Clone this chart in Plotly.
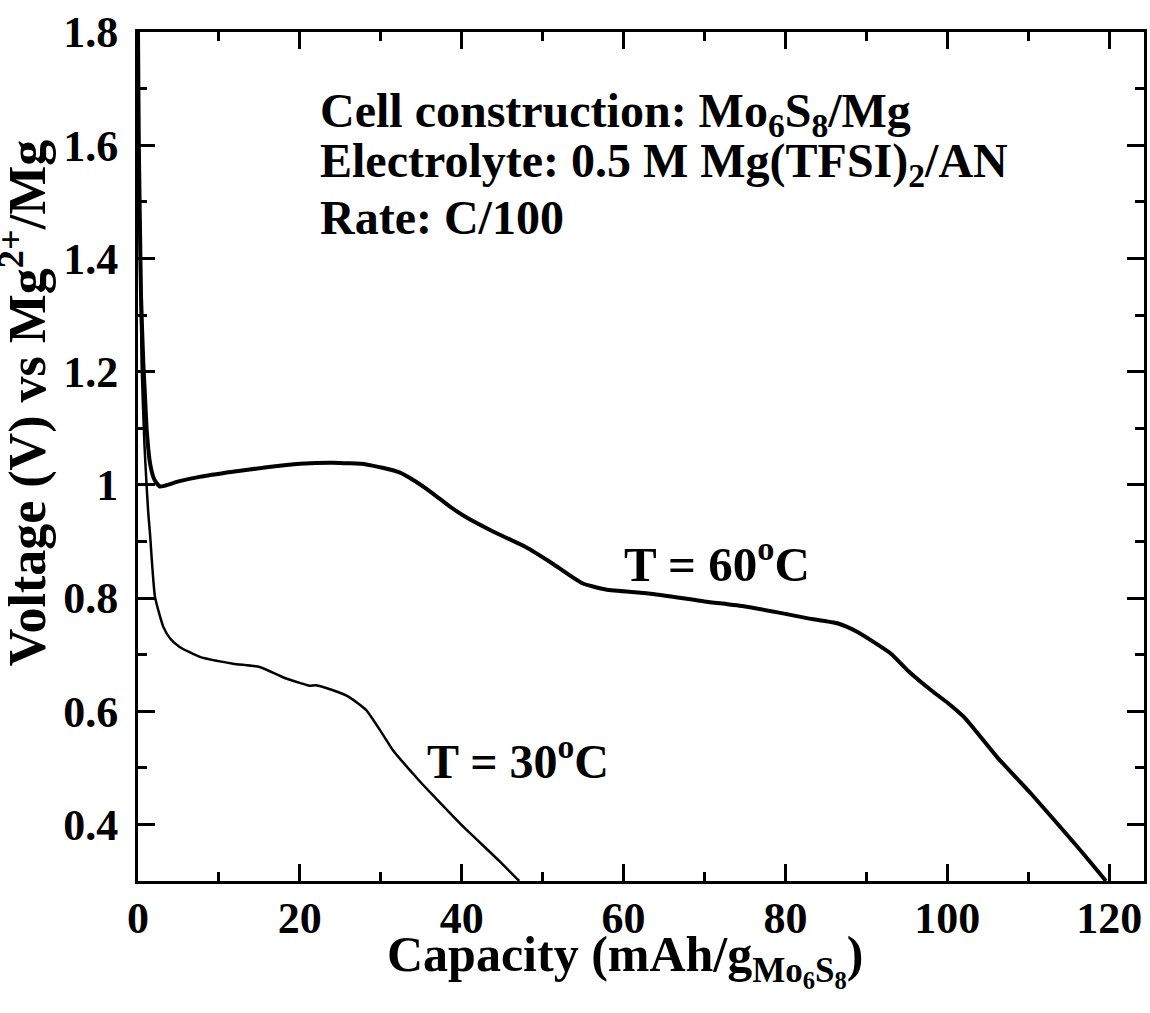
import plotly.graph_objects as go

# ---- data ----
cap_60 = [0, 0.1, 0.25, 0.38, 0.66, 0.87, 1.08, 1.5, 2.0, 2.7, 5.0, 7.6, 11.7, 15.9, 20.0, 24.1,
          28.2, 30.2, 32.3, 34.4, 36.4, 38.5, 40.5, 43.8, 47.9, 51.2, 54.9, 57.8, 63.1, 70.0,
          75.0, 80.0, 82.8, 86.5, 88.9, 93.0, 95.1, 98.0, 100.1, 102.1, 106.2, 110.3, 116.1, 119.6]
volt_60 = [1.80, 1.60, 1.45, 1.33, 1.214, 1.155, 1.096, 1.037, 1.010, 0.997, 1.006, 1.014, 1.023,
           1.031, 1.037, 1.039, 1.036, 1.030, 1.022, 1.005, 0.985, 0.962, 0.943, 0.918, 0.890,
           0.861, 0.826, 0.815, 0.808, 0.794, 0.785, 0.772, 0.764, 0.755, 0.740, 0.702, 0.672,
           0.637, 0.614, 0.589, 0.518, 0.455, 0.360, 0.300]

cap_30 = [0, 0.1, 0.2, 0.45, 0.8, 1.07, 1.27, 1.48, 2.1, 3.13, 4.0, 5.19, 7.65, 11.75, 15.04,
          17.9, 19.97, 21.2, 22.0, 24.1, 26.1, 28.2, 30.2, 31.5, 32.3, 34.7, 36.4, 39.9, 44.6, 47.1]
volt_30 = [1.80, 1.62, 1.47, 1.21, 1.07, 0.997, 0.95, 0.914, 0.802, 0.749, 0.728, 0.713, 0.696,
           0.684, 0.678, 0.660, 0.650, 0.645, 0.646, 0.637, 0.625, 0.602, 0.560, 0.531, 0.517,
           0.478, 0.452, 0.400, 0.336, 0.300]

x_ticks = [0, 20, 40, 60, 80, 100, 120]
x_ticklabels = ["0", "20", "40", "60", "80", "100", "120"]
y_ticks = [0.4, 0.6, 0.8, 1.0, 1.2, 1.4, 1.6, 1.8]
y_ticklabels = ["0.4", "0.6", "0.8", "1", "1.2", "1.4", "1.6", "1.8"]

info_lines = ["Cell construction: Mo<sub>6</sub>S<sub>8</sub>/Mg",
              "Electrolyte: 0.5 M Mg(TFSI)<sub>2</sub>/AN",
              "Rate: C/100"]
label_60 = "T = 60<sup>o</sup>C"
label_30 = "T = 30<sup>o</sup>C"
x_title = "Capacity (mAh/g<sub>Mo<sub>6</sub>S<sub>8</sub></sub>)"
y_title = "Voltage (V) vs Mg<sup>2+</sup>/Mg"

FONT = "Liberation Serif, Times New Roman, serif"

fig = go.Figure()
fig.add_trace(go.Scatter(x=cap_60, y=volt_60, mode="lines",
                         line=dict(color="black", width=4, shape="spline", smoothing=0.5),
                         showlegend=False))
fig.add_trace(go.Scatter(x=cap_30, y=volt_30, mode="lines",
                         line=dict(color="black", width=2.5, shape="spline", smoothing=0.5),
                         showlegend=False))

axis_common = dict(showgrid=False, zeroline=False, showline=True, linecolor="black",
                   linewidth=3, mirror="allticks", ticks="inside", ticklen=17,
                   tickwidth=2.5, tickcolor="black",
                   tickfont=dict(family=FONT, size=44, color="black", weight="bold"))

fig.update_xaxes(range=[0, 124.3], tickvals=x_ticks, ticktext=x_ticklabels,
                 minor=dict(dtick=10, ticks="inside", ticklen=9, tickwidth=2.5, tickcolor="black"),
                 ticklabelstandoff=-4, **axis_common)
fig.update_yaxes(range=[0.3, 1.8], tickvals=y_ticks, ticktext=y_ticklabels,
                 minor=dict(dtick=0.1, tick0=0.3, ticks="inside", ticklen=9, tickwidth=2.5, tickcolor="black"),
                 ticklabelstandoff=8, **axis_common)

ann_font = dict(family=FONT, size=48, color="black", weight="bold")
info_y = [1.656, 1.566, 1.473]
for txt, yy in zip(info_lines, info_y):
    fig.add_annotation(x=22.2, y=yy, xref="x", yref="y", text=txt, showarrow=False,
                       xanchor="left", yanchor="middle", font=ann_font)

fig.add_annotation(x=59.8, y=0.867, xref="x", yref="y", text=label_60, showarrow=False,
                   xanchor="left", yanchor="middle", font=dict(family=FONT, size=49, color="black", weight="bold"))
fig.add_annotation(x=35.4, y=0.518, xref="x", yref="y", text=label_30, showarrow=False,
                   xanchor="left", yanchor="middle", font=dict(family=FONT, size=48, color="black", weight="bold"))

fig.add_annotation(x=0.4837, y=-0.051, xref="paper", yref="paper", text=x_title, showarrow=False,
                   xanchor="center", yanchor="top", font=dict(family=FONT, size=50, color="black", weight="bold"))
fig.add_annotation(x=-0.113, y=0.563, xref="paper", yref="paper", text=y_title, showarrow=False,
                   textangle=-90, xanchor="center", yanchor="middle",
                   font=dict(family=FONT, size=52, color="black", weight="bold"))

fig.update_layout(width=1150, height=1013, margin=dict(l=138, r=3, t=32, b=132),
                  paper_bgcolor="white", plot_bgcolor="white")

fig.write_html("out.html")
